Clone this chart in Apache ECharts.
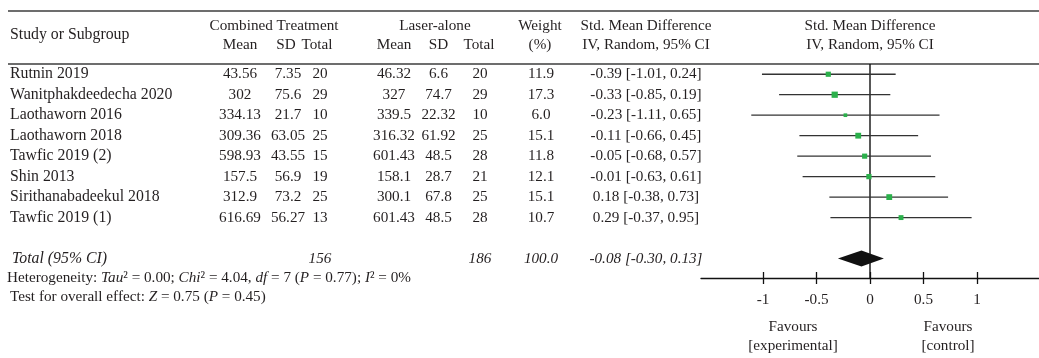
<!DOCTYPE html>
<html>
<head>
<meta charset="utf-8">
<script src="https://cdn.jsdelivr.net/npm/echarts@6/dist/echarts.min.js"></script>
<style>
  html, body { margin: 0; padding: 0; background: #fff; }
  #chart { width: 1039px; height: 358px; }
</style>
</head>
<body>
<div id="chart"></div>
<script>
// Study rows (top to bottom)
const studies = ['Rutnin 2019', 'Wanitphakdeedecha 2020', 'Laothaworn 2016', 'Laothaworn 2018',
  'Tawfic 2019 (2)', 'Shin 2013', 'Sirithanabadeekul 2018', 'Tawfic 2019 (1)'];
// Combined treatment arm
const comboMean = [43.56, 302, 334.13, 309.36, 598.93, 157.5, 312.9, 616.69];
const comboSD = [7.35, 75.6, 21.7, 63.05, 43.55, 56.9, 73.2, 56.27];
const comboN = [20, 29, 10, 25, 15, 19, 25, 13];
// Laser-alone arm
const laserMean = [46.32, 327, 339.5, 316.32, 601.43, 158.1, 300.1, 601.43];
const laserSD = [6.6, 74.7, 22.32, 61.92, 48.5, 28.7, 67.8, 48.5];
const laserN = [20, 29, 10, 25, 28, 21, 25, 28];
// Weights (%) and standardised mean differences with 95% CI
const weights = [11.9, 17.3, 6.0, 15.1, 11.8, 12.1, 15.1, 10.7];
const smd = [-0.39, -0.33, -0.23, -0.11, -0.05, -0.01, 0.18, 0.29];
const ciLow = [-1.01, -0.85, -1.11, -0.66, -0.68, -0.63, -0.38, -0.37];
const ciHigh = [0.24, 0.19, 0.65, 0.45, 0.57, 0.61, 0.73, 0.95];
// Pooled estimate
const totalComboN = 156;
const totalLaserN = 186;
const totalWeight = 100.0;
const pooled = [-0.08, -0.30, 0.13]; // estimate, low, high
// Axis ticks
const tickValues = [-1, -0.5, 0, 0.5, 1];
const tickLabels = ['-1', '-0.5', '0', '0.5', '1'];

const TEXT = '#231f20';
const FONT = '"Liberation Serif", "Times New Roman", serif';
const FS = 15.2;

// Row layout shared by the plot grid and the table text
const GRID_TOP = 64, GRID_H = 214, Y_MIN = -0.5, Y_MAX = 9.95;
const ROW_H = GRID_H / (Y_MAX - Y_MIN);
const rowY = r => GRID_TOP + (r - Y_MIN) * ROW_H;
const TOTAL_ROW = 9;

const f2 = v => v.toFixed(2);
const ciText = (m, l, h) => `${f2(m)} [${f2(l)}, ${f2(h)}]`;

function txt(text, x, y, align, opts) {
  return {
    type: 'text', x: x, y: y, silent: true,
    style: Object.assign({
      text: text, fill: TEXT, fontFamily: FONT, fontSize: FS,
      textAlign: align || 'left', textVerticalAlign: 'middle'
    }, opts || {})
  };
}
function rule(y) {
  return { type: 'line', silent: true,
    shape: { x1: 8, y1: y, x2: 1039, y2: y },
    style: { stroke: '#3c3c3c', lineWidth: 1.6 } };
}

const COL = { m1: 240, s1: 288, n1: 320, m2: 394, s2: 438.5, n2: 480, w: 541, ci: 646, plot: 870 };
const graphics = [rule(11), rule(64)];
const nameStyle = { fontSize: 15.8 };

// Header
graphics.push(txt('Study or Subgroup', 10, 35, 'left', nameStyle));
graphics.push(txt('Combined Treatment', 274, 26, 'center'));
graphics.push(txt('Mean', COL.m1, 45, 'center'), txt('SD', COL.s1 - 2, 45, 'center'), txt('Total', COL.n1 - 3, 45, 'center'));
graphics.push(txt('Laser-alone', 435, 26, 'center'));
graphics.push(txt('Mean', COL.m2, 45, 'center'), txt('SD', COL.s2, 45, 'center'), txt('Total', COL.n2 - 1, 45, 'center'));
graphics.push(txt('Weight', COL.w - 1, 26, 'center'), txt('(%)', COL.w - 1, 45, 'center'));
graphics.push(txt('Std. Mean Difference', COL.ci, 26, 'center'), txt('IV, Random, 95% CI', COL.ci, 45, 'center'));
graphics.push(txt('Std. Mean Difference', COL.plot, 26, 'center'), txt('IV, Random, 95% CI', COL.plot, 45, 'center'));

// Study rows
studies.forEach((s, i) => {
  const y = rowY(i);
  graphics.push(txt(s, 10, y, 'left', nameStyle));
  graphics.push(txt(String(comboMean[i]), COL.m1, y, 'center'));
  graphics.push(txt(String(comboSD[i]), COL.s1, y, 'center'));
  graphics.push(txt(String(comboN[i]), COL.n1, y, 'center'));
  graphics.push(txt(String(laserMean[i]), COL.m2, y, 'center'));
  graphics.push(txt(String(laserSD[i]), COL.s2, y, 'center'));
  graphics.push(txt(String(laserN[i]), COL.n2, y, 'center'));
  graphics.push(txt(weights[i].toFixed(1), COL.w, y, 'center'));
  graphics.push(txt(ciText(smd[i], ciLow[i], ciHigh[i]), COL.ci, y, 'center'));
});

// Pooled row
const ty = rowY(TOTAL_ROW);
const it = { fontStyle: 'italic' };
graphics.push(txt('Total (95% CI)', 12, ty, 'left', { fontStyle: 'italic', fontSize: 15.8 }));
graphics.push(txt(String(totalComboN), COL.n1, ty, 'center', it));
graphics.push(txt(String(totalLaserN), COL.n2, ty, 'center', it));
graphics.push(txt(totalWeight.toFixed(1), COL.w, ty, 'center', it));
graphics.push(txt(ciText(pooled[0], pooled[1], pooled[2]), COL.ci, ty, 'center', it));

// Heterogeneity and overall effect
const richIt = { i: { fontStyle: 'italic', fontFamily: FONT, fontSize: FS, fill: TEXT } };
graphics.push(txt('Heterogeneity: {i|Tau}² = 0.00; {i|Chi}² = 4.04, {i|df} = 7 ({i|P} = 0.77); {i|I}² = 0%', 7, 278, 'left', { rich: richIt }));
graphics.push(txt('Test for overall effect: {i|Z} = 0.75 ({i|P} = 0.45)', 10, 297, 'left', { rich: richIt }));

// Favours labels
graphics.push(txt('Favours', 793, 327, 'center'), txt('[experimental]', 793, 346, 'center'));
graphics.push(txt('Favours', 948, 327, 'center'), txt('[control]', 948, 346, 'center'));

const chart = echarts.init(document.getElementById('chart'), null, { renderer: 'canvas' });

const baseX = { type: 'value', min: -1.58, max: 1.58, position: 'bottom', splitLine: { show: false } };
const tickLine = { color: '#111', width: 1.3 };

chart.setOption({
  animation: false,
  backgroundColor: '#fff',
  grid: { left: 701, width: 338, top: GRID_TOP, height: GRID_H, containLabel: false },
  xAxis: [
    Object.assign({}, baseX, {
      axisLine: { show: true, onZero: false, lineStyle: { color: '#111', width: 1.3 } },
      axisTick: { show: true, length: 6, inside: false, customValues: tickValues, lineStyle: tickLine },
      axisLabel: {
        show: true, customValues: tickValues, margin: 15,
        color: TEXT, fontFamily: FONT, fontSize: FS,
        formatter: v => tickLabels[tickValues.indexOf(v)] ?? ''
      }
    }),
    Object.assign({}, baseX, {
      axisLine: { show: false, onZero: false },
      axisTick: { show: true, length: 6, inside: true, customValues: tickValues, lineStyle: tickLine },
      axisLabel: { show: false }
    })
  ],
  yAxis: { type: 'value', inverse: true, min: Y_MIN, max: Y_MAX, show: false },
  series: [
    {
      // line of no effect
      type: 'line', xAxisIndex: 0, symbol: 'none', silent: true, z: 2,
      data: [[0, Y_MIN], [0, Y_MAX]],
      lineStyle: { color: '#111', width: 1.4 }
    },
    {
      // study CIs and weighted point estimates
      type: 'custom', xAxisIndex: 0, z: 3, silent: true,
      data: smd.map((m, i) => [i, ciLow[i], ciHigh[i], m, weights[i]]),
      encode: { x: [1, 2, 3], y: 0 },
      renderItem(params, api) {
        const r = api.value(0);
        const a = api.coord([api.value(1), r]);
        const b = api.coord([api.value(2), r]);
        const c = api.coord([api.value(3), r]);
        const s = 1.5 * Math.sqrt(api.value(4));
        return {
          type: 'group',
          children: [
            { type: 'line', shape: { x1: a[0], y1: a[1], x2: b[0], y2: b[1] }, style: { stroke: '#333', lineWidth: 1.3 } },
            { type: 'rect', shape: { x: c[0] - s / 2, y: c[1] - s / 2, width: s, height: s }, style: { fill: '#2bb04b' } }
          ]
        };
      }
    },
    {
      // pooled diamond
      type: 'custom', xAxisIndex: 0, z: 4, silent: true,
      data: [[TOTAL_ROW, pooled[1], pooled[2], pooled[0]]],
      encode: { x: [1, 2, 3], y: 0 },
      renderItem(params, api) {
        const r = api.value(0);
        const l = api.coord([api.value(1), r]);
        const h = api.coord([api.value(2), r]);
        const m = api.coord([api.value(3), r]);
        const hh = 8;
        return {
          type: 'polygon',
          shape: { points: [[l[0], l[1]], [m[0], m[1] - hh], [h[0], h[1]], [m[0], m[1] + hh]] },
          style: { fill: '#111' }
        };
      }
    }
  ],
  graphic: { elements: graphics }
});
</script>
</body>
</html>
